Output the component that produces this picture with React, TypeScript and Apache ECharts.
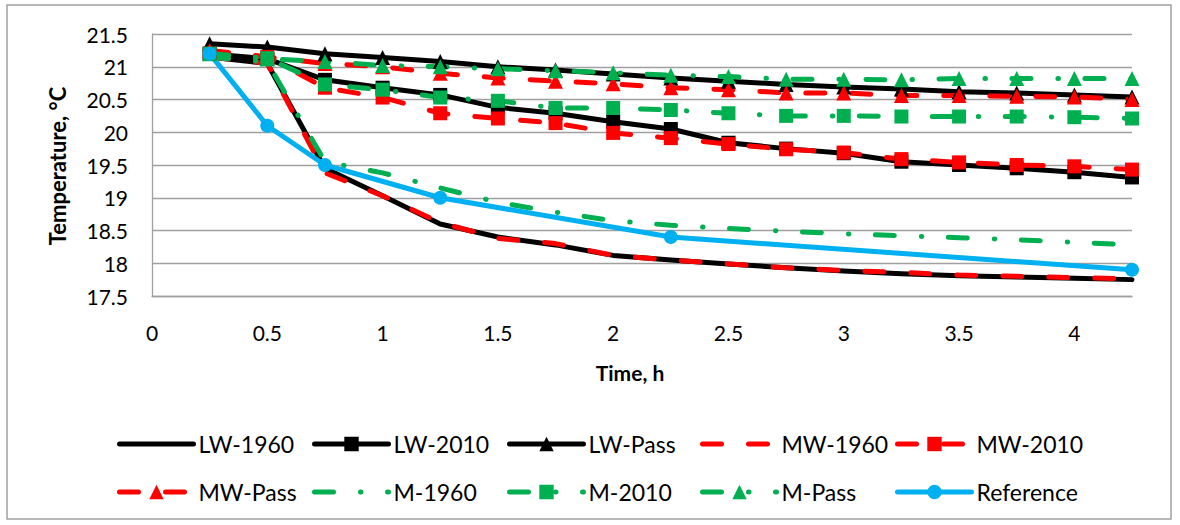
import React, { useEffect, useRef } from "react";
import * as echarts from "echarts";

const times = [0.25, 0.5, 0.75, 1, 1.25, 1.5, 1.75, 2, 2.25, 2.5, 2.75, 3, 3.25, 3.5, 3.75, 4, 4.25];

const lw1960 = [21.15, 21.05, 19.45, 19.03, 18.6, 18.4, 18.28, 18.12, 18.05, 17.99, 17.93, 17.88, 17.84, 17.81, 17.79, 17.77, 17.75];
const lw2010 = [21.2, 21.12, 20.8, 20.68, 20.57, 20.38, 20.29, 20.16, 20.05, 19.84, 19.75, 19.68, 19.55, 19.5, 19.45, 19.39, 19.31];
const lwPass = [21.35, 21.3, 21.2, 21.14, 21.08, 21.0, 20.95, 20.89, 20.83, 20.78, 20.73, 20.69, 20.66, 20.62, 20.6, 20.57, 20.54];
const mw1960 = [21.15, 21.05, 19.38, 19.03, 18.62, 18.38, 18.3, 18.12, 18.05, 17.99, 17.93, 17.89, 17.86, 17.82, 17.8, 17.78, 17.76];
const mw2010 = [21.2, 21.15, 20.68, 20.53, 20.29, 20.21, 20.14, 19.99, 19.91, 19.82, 19.74, 19.69, 19.59, 19.54, 19.5, 19.48, 19.43];
const mwPass = [21.25, 21.15, 21.05, 21.0, 20.9, 20.83, 20.78, 20.74, 20.68, 20.65, 20.6, 20.6, 20.56, 20.56, 20.55, 20.54, 20.5];
const m1960 = [21.15, 21.07, 19.55, 19.38, 19.15, 18.93, 18.78, 18.65, 18.58, 18.53, 18.49, 18.45, 18.42, 18.39, 18.36, 18.32, 18.28];
const m2010 = [21.2, 21.13, 20.73, 20.65, 20.53, 20.48, 20.37, 20.37, 20.34, 20.29, 20.25, 20.25, 20.24, 20.24, 20.24, 20.23, 20.21];
const mPass = [21.2, 21.12, 21.08, 21.02, 21.0, 20.97, 20.94, 20.91, 20.87, 20.85, 20.81, 20.81, 20.8, 20.82, 20.82, 20.82, 20.82];

const refTimes = [0.25, 0.5, 0.75, 1.25, 2.25, 4.25];
const refValues = [21.2, 20.1, 19.5, 19.0, 18.4, 17.9];

const seriesNames = ["LW-1960", "LW-2010", "LW-Pass", "MW-1960", "MW-2010", "MW-Pass", "M-1960", "M-2010", "M-Pass", "Reference"];

const FONT = "Lato, Carlito, Calibri, sans-serif";
const BLACK = "#000000";
const RED = "#ff0000";
const GREEN = "#00b050";
const BLUE = "#00b0f0";
const LINE_W = 5;
const DASH = [19, 27];
const DASH_DOT = [19, 27, 0.5, 26.5];

const pair = (xs: number[], ys: number[]) => xs.map((x, i) => [x, ys[i]]);

type Spec = { name: string; xs: number[]; ys: number[]; color: string; dash: any; symbol: string };

const specs: Spec[] = [
  { name: seriesNames[0], xs: times, ys: lw1960, color: BLACK, dash: "solid", symbol: "none" },
  { name: seriesNames[1], xs: times, ys: lw2010, color: BLACK, dash: "solid", symbol: "rect" },
  { name: seriesNames[2], xs: times, ys: lwPass, color: BLACK, dash: "solid", symbol: "triangle" },
  { name: seriesNames[3], xs: times, ys: mw1960, color: RED, dash: DASH, symbol: "none" },
  { name: seriesNames[4], xs: times, ys: mw2010, color: RED, dash: DASH, symbol: "rect" },
  { name: seriesNames[5], xs: times, ys: mwPass, color: RED, dash: DASH, symbol: "triangle" },
  { name: seriesNames[6], xs: times, ys: m1960, color: GREEN, dash: DASH_DOT, symbol: "none" },
  { name: seriesNames[7], xs: times, ys: m2010, color: GREEN, dash: DASH_DOT, symbol: "rect" },
  { name: seriesNames[8], xs: times, ys: mPass, color: GREEN, dash: DASH_DOT, symbol: "triangle" },
  { name: seriesNames[9], xs: refTimes, ys: refValues, color: BLUE, dash: "solid", symbol: "circle" },
];

const legendLeft = [117, 312, 507, 700, 895];
const legendTop = [432, 480];

export default function App() {
  const ref = useRef<HTMLDivElement>(null);
  useEffect(() => {
    if (!ref.current) return;
    const chart = echarts.init(ref.current, null, { renderer: "svg" });
    const series = specs.map((s) => ({
      name: s.name,
      type: "line",
      data: pair(s.xs, s.ys),
      symbol: s.symbol,
      symbolSize: s.symbol === "triangle" ? 15 : 14,
      showSymbol: s.symbol !== "none",
      lineStyle: { color: s.color, width: LINE_W, type: s.dash, cap: "round", join: "round" },
      itemStyle: { color: s.color, borderWidth: 0 },
      emphasis: { disabled: true },
    }));
    const legends = specs.map((s, i) => ({
      data: [
        s.symbol === "none"
          ? { name: s.name, itemStyle: { opacity: 0 } }
          : { name: s.name },
      ],
      left: legendLeft[i % 5],
      top: legendTop[Math.floor(i / 5)],
      padding: 0,
      itemWidth: 74,
      itemHeight: 18,
      selectedMode: false,
      lineStyle: { width: LINE_W, cap: "round" },
      textStyle: { fontFamily: FONT, fontSize: 23, color: "#000", lineHeight: 24 },
    }));
    chart.setOption({
      animation: false,
      backgroundColor: "#ffffff",
      grid: { left: 152, top: 34, right: 48, bottom: 229, containLabel: false },
      xAxis: {
        type: "value",
        min: 0,
        max: 4.25,
        interval: 0.5,
        axisLine: { show: true, lineStyle: { color: "#a0a0a0", width: 1.3 } },
        axisTick: { show: false },
        splitLine: { show: false },
        axisLabel: {
          margin: 26,
          fontFamily: FONT,
          fontSize: 21,
          color: "#000",
          formatter: (v: number) => (Math.abs(v * 2 - Math.round(v * 2)) < 1e-9 ? String(v) : ""),
        },
      },
      yAxis: {
        type: "value",
        min: 17.5,
        max: 21.5,
        interval: 0.5,
        axisLine: { show: true, lineStyle: { color: "#a0a0a0", width: 1.3 } },
        axisTick: { show: false },
        splitLine: { show: true, lineStyle: { color: "#a0a0a0", width: 1.3 } },
        axisLabel: { margin: 24, fontFamily: FONT, fontSize: 21, color: "#000" },
      },
      legend: legends,
      graphic: [
        {
          type: "rect",
          shape: { x: 7, y: 5, width: 1164, height: 514 },
          style: { fill: "none", stroke: "#a0a0a0", lineWidth: 1.5 },
          silent: true,
        },
        {
          type: "text",
          x: 57,
          y: 166,
          rotation: Math.PI / 2,
          style: {
            text: "Temperature, °C",
            font: `bold 22px ${FONT}`,
            fill: "#000",
            align: "center",
            verticalAlign: "middle",
          },
        },
        {
          type: "text",
          x: 630,
          y: 372,
          style: {
            text: "Time, h",
            font: `bold 21px ${FONT}`,
            fill: "#000",
            align: "center",
            verticalAlign: "middle",
          },
        },
      ],
      series,
    });
    return () => chart.dispose();
  }, []);
  return (
    <div
      ref={ref}
      style={{ position: "absolute", left: 0, top: 0, width: 1180, height: 525, background: "#fff" }}
    />
  );
}
